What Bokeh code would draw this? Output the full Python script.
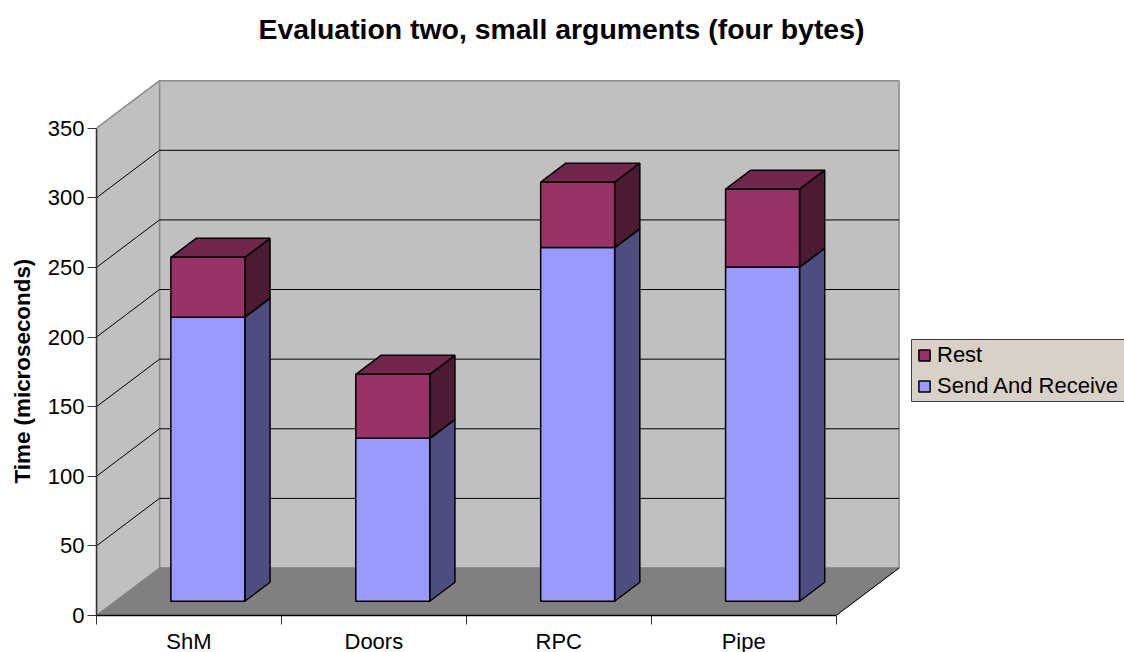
from bokeh.embed import file_html
from bokeh.models import FixedTicker, Label, Legend, LegendItem, Range1d, Title
from bokeh.plotting import figure
from bokeh.resources import INLINE

categories = ["ShM", "Doors", "RPC", "Pipe"]
send_and_receive = [204, 117, 254, 240]
rest = [43, 46, 47, 56]
value_ticks = [0, 50, 100, 150, 200, 250, 300, 350]

TITLE = "Evaluation two, small arguments (four bytes)"
Y_LABEL = "Time (microseconds)"
FONT = "Liberation Sans"

WIDTH, HEIGHT = 1124, 652
LEFT, BOTTOM = 96, 37
CAT_PX = 184.9
VALUE_PX = 487.3 / 350

# oblique projection: one unit of depth moves a point right and up
SHEAR_X = 63 / CAT_PX
SHEAR_Y = 47.5 / VALUE_PX
Y_MAX = 350
N = len(categories)

BAR_LO, BAR_HI = 0.3, 0.7
Z_FRONT, Z_BACK = 0.3, 0.7


def proj(x, v, z):
    return x + z * SHEAR_X, v + z * SHEAR_Y


def poly(points):
    pts = [proj(*pt) for pt in points]
    return [pt[0] for pt in pts], [pt[1] for pt in pts]


p = figure(
    width=WIDTH, height=HEIGHT, output_backend="svg", toolbar_location=None,
    frame_width=WIDTH - LEFT, frame_height=HEIGHT - BOTTOM,
    x_range=Range1d(0, (WIDTH - LEFT) / CAT_PX),
    y_range=Range1d(0, (HEIGHT - BOTTOM) / VALUE_PX),
    min_border_left=LEFT, min_border_bottom=BOTTOM, min_border_top=0, min_border_right=0,
    background_fill_color="white", border_fill_color="white",
)
p.outline_line_color = None
p.grid.visible = False


def face(points, fill, line=None, width=1.0):
    xs, ys = poly(points)
    return p.patch(xs, ys, fill_color=fill, line_color=line or fill, line_width=width)


# chart walls and floor
WALL = "#C0C0C0"
EDGE = "#8C8C8C"
face([(0, 0, 1), (N, 0, 1), (N, Y_MAX, 1), (0, Y_MAX, 1)], WALL, EDGE, 1.5)
face([(0, 0, 0), (0, 0, 1), (0, Y_MAX, 1), (0, Y_MAX, 0)], WALL, EDGE, 1.5)
face([(0, 0, 0), (N, 0, 0), (N, 0, 1), (0, 0, 1)], "#808080", "#808080", 1)

# gridlines run along the side wall and across the back wall
for v in value_ticks[1:-1]:
    xs, ys = poly([(0, v, 0), (0, v, 1), (N, v, 1)])
    p.line(xs, ys, line_color="#000000", line_width=1)

# floor front edge on the right
xs, ys = poly([(N, 0, 0), (N, 0, 1)])
p.line(xs, ys, line_color="#000000", line_width=1)

OUTLINE = "#000000"
SEND_COLOURS = ("#9999FF", "#4D4D80", "#737FBF")
REST_COLOURS = ("#993366", "#4D1A33", "#73264D")
send_faces = []
rest_faces = []


def box(i, low, high, colours):
    x0, x1 = i + BAR_LO, i + BAR_HI
    front, side, top = colours
    face([(x1, low, Z_FRONT), (x1, low, Z_BACK), (x1, high, Z_BACK), (x1, high, Z_FRONT)],
         side, OUTLINE, 1.5)
    face([(x0, high, Z_FRONT), (x1, high, Z_FRONT), (x1, high, Z_BACK), (x0, high, Z_BACK)],
         top, OUTLINE, 1.5)
    return face([(x0, low, Z_FRONT), (x1, low, Z_FRONT), (x1, high, Z_FRONT), (x0, high, Z_FRONT)],
                front, OUTLINE, 1.5)


for i in range(N):
    send_faces.append(box(i, 0, send_and_receive[i], SEND_COLOURS))
    rest_faces.append(box(i, send_and_receive[i], send_and_receive[i] + rest[i], REST_COLOURS))

# axes
yaxis = p.yaxis[0]
yaxis.bounds = (0, Y_MAX)
yaxis.ticker = FixedTicker(ticks=value_ticks)
yaxis.axis_line_color = "#333333"
yaxis.axis_line_width = 1.5
yaxis.major_tick_line_color = "#333333"
yaxis.major_tick_line_width = 1
yaxis.major_tick_in = 0
yaxis.major_tick_out = 9
yaxis.minor_tick_in = 0
yaxis.minor_tick_out = 0
yaxis.major_label_standoff = 3
yaxis.major_label_text_font = FONT
yaxis.major_label_text_font_size = "22px"
yaxis.major_label_text_color = "#000000"

xaxis = p.xaxis[0]
xaxis.bounds = (0, N)
xaxis.ticker = FixedTicker(ticks=[i + 0.5 for i in range(N)], minor_ticks=list(range(N + 1)))
xaxis.major_label_overrides = {i + 0.5: c for i, c in enumerate(categories)}
xaxis.axis_line_color = "#000000"
xaxis.axis_line_width = 1.5
xaxis.major_tick_in = 0
xaxis.major_tick_out = 0
xaxis.minor_tick_in = 0
xaxis.minor_tick_out = 9
xaxis.minor_tick_line_color = "#333333"
xaxis.major_label_standoff = 4
xaxis.major_label_text_font = FONT
xaxis.major_label_text_font_size = "22px"
xaxis.major_label_text_color = "#000000"

# title, centred over the whole page
p.add_layout(Label(
    x=WIDTH / 2 - LEFT - 1, y=HEIGHT - BOTTOM - 28, x_units="screen", y_units="screen",
    text=TITLE, text_align="center", text_baseline="middle",
    text_font=FONT, text_font_style="bold", text_font_size="28.4px", text_color="#000000",
))

# value axis title, set along the axis span rather than the full frame
p.add_layout(Title(
    text=Y_LABEL, align="left", offset=132, standoff=16, vertical_align="top",
    text_font=FONT, text_font_style="bold", text_font_size="22.4px", text_color="#000000",
), "left")

# legend panel: it runs past the page edge on the right
panel_x0 = (911 - LEFT) / CAT_PX
panel_x1 = (1135 - LEFT) / CAT_PX
panel_y0 = (HEIGHT - BOTTOM - 401) / VALUE_PX
panel_y1 = (HEIGHT - BOTTOM - 339) / VALUE_PX
p.quad(left=[panel_x0], right=[panel_x1], bottom=[panel_y0], top=[panel_y1],
       fill_color="#D9D0C7", line_color="#404040", line_width=1)

legend = Legend(
    items=[LegendItem(label="Rest", renderers=[rest_faces[0]]),
           LegendItem(label="Send And Receive", renderers=[send_faces[0]])],
    location=(818, 213),
    background_fill_alpha=0, border_line_alpha=0,
    label_text_font=FONT, label_text_font_size="22px", label_text_color="#000000",
    glyph_width=14, glyph_height=14, label_standoff=6, spacing=5,
    padding=3, margin=0, label_height=23,
)
p.add_layout(legend)

open("out.html", "w").write(file_html(p, INLINE))
